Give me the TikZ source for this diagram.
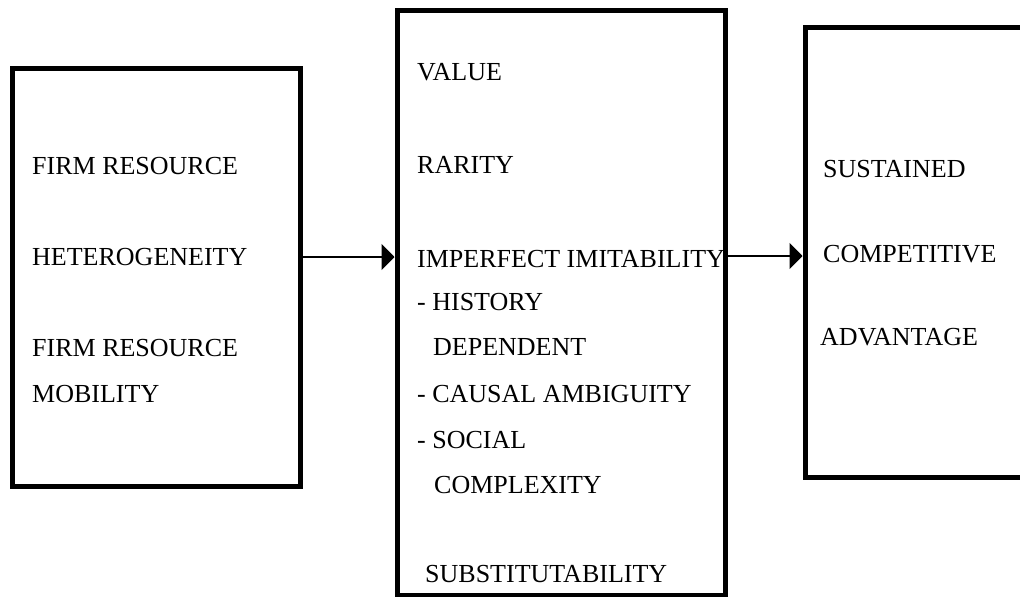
\documentclass[tikz,border=0pt]{standalone}
\usepackage{fontspec}
\setmainfont{Liberation Serif}
\usetikzlibrary{arrows.meta}
\begin{document}
\begin{tikzpicture}[x=1pt,y=-1pt,
  panel/.style={draw=black,line width=5pt,rectangle,inner sep=0pt},
  label/.style={anchor=base west,inner sep=0pt,font=\fontsize{26}{30}\selectfont},
  flow/.style={draw=black,line width=2pt,-{Triangle[length=13pt,width=26pt]}}]
\clip (0,0) rectangle (1020,597);
\fill[white] (0,0) rectangle (1020,597);

% three panels
\node[panel,minimum width=288pt,minimum height=418pt] (lbox) at (156,277) {};
\node[panel,minimum width=328pt,minimum height=585pt] (mbox) at (561,302.5) {};
\node[panel,minimum width=230pt,minimum height=450pt] (rbox) at (920,252) {};

% left panel text
\node[label] (l1) at (32,174) {FIRM RESOURCE};
\node[label] (l2) at (32,265) {HETEROGENEITY};
\node[label] (l3) at (32,356) {FIRM RESOURCE};
\node[label] (l4) at (32,402) {MOBILITY};

% middle panel text
\node[label] (m1) at (417,80) {VALUE};
\node[label] (m2) at (417,173) {RARITY};
\node[label] (m3) at (417,267) {IMPERFECT IMITABILITY};
\node[label] (m4) at (417,310) {- HISTORY};
\node[label] (m5) at (433,355) {DEPENDENT};
\node[label] (m6) at (417,402) {- CAUSAL AMBIGUITY};
\node[label] (m7) at (417,448) {- SOCIAL};
\node[label] (m8) at (434,493) {COMPLEXITY};
\node[label] (m9) at (425,582) {SUBSTITUTABILITY};

% right panel text
\node[label] (r1) at (823,177) {SUSTAINED};
\node[label] (r2) at (823,262) {COMPETITIVE};
\node[label] (r3) at (820,345) {ADVANTAGE};

% connectors
\coordinate (ya) at (0,257);
\coordinate (yb) at (0,256);
\draw[flow] (lbox.east |- ya) -- (mbox.west |- ya);
\draw[flow] (mbox.east |- yb) -- (rbox.west |- yb);
\end{tikzpicture}
\end{document}
